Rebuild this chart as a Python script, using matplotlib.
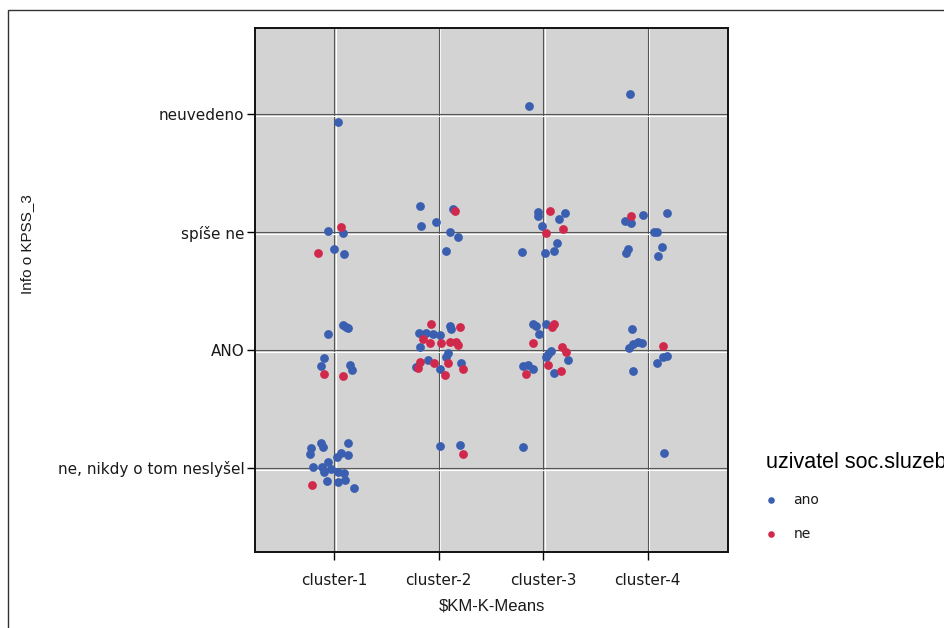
"""Jittered scatter of Info o KPSS_3 by K-Means cluster"""
import matplotlib
matplotlib.use('Agg')
import matplotlib.pyplot as plt
import matplotlib.patheffects as pe
from matplotlib.patches import Rectangle

clusters = ['cluster-1', 'cluster-2', 'cluster-3', 'cluster-4']
answers = ['ne, nikdy o tom neslyšel', 'ANO', 'spíše ne', 'neuvedeno']
groups = ['ano', 'ne']

# jittered positions (x = cluster 1..4, y = answer 0..3)
ano_x = [1.035, 0.940, 1.083, 1.000, 1.098,
         1.083, 1.137, 1.115, 0.945, 0.904, 0.873, 1.153, 1.169,
         0.876, 0.898, 0.780, 0.771, 1.137, 1.067, 1.137, 1.026, 0.945, 0.882,
         0.802, 0.907, 0.971, 1.041, 1.098, 0.930, 1.041, 1.105, 1.194,
         1.825, 2.141, 1.828, 1.978, 2.112, 2.185, 2.074,
         2.105, 2.121, 1.813, 1.876, 1.946, 2.010, 1.825, 2.090, 2.074, 1.787,
         1.899, 2.217, 2.010,
         2.016, 2.207,
         2.860, 2.946, 2.946, 3.207, 3.153, 2.985, 3.128, 3.099, 3.019, 2.793,
         2.899, 2.930, 3.026, 2.962, 3.074, 3.042, 3.233, 3.026, 2.803, 2.851,
         2.899, 3.099,
         2.803,
         3.831, 3.783, 3.837, 3.958, 4.187, 4.060, 4.092, 4.140, 4.101, 3.809, 3.793,
         3.847, 3.910, 3.942, 3.862, 3.824, 4.182, 4.146, 4.086, 3.857,
         4.156]
ano_y = [2.935, 2.011, 1.989, 1.856, 1.811,
         1.212, 1.184, 1.197, 1.133, 0.930, 0.864, 0.873, 0.831,
         0.214, 0.181, 0.167, 0.119, 0.209, 0.125, 0.110, 0.096, 0.053, 0.011,
         0.011, -0.031, -0.011, -0.031, -0.045, -0.108, -0.116, -0.102, -0.172,
         2.220, 2.195, 2.053, 2.082, 2.003, 1.960, 1.839,
         1.203, 1.175, 1.147, 1.142, 1.136, 1.127, 1.028, 0.977, 0.941, 0.858,
         0.915, 0.887, 0.836,
         0.186, 0.195,
         3.068, 2.172, 2.138, 2.164, 2.108, 2.051, 1.909, 1.839, 1.819, 1.831,
         1.220, 1.203, 1.220, 1.136, 0.994, 0.966, 0.915, 0.943, 0.864, 0.873,
         0.836, 0.803,
         0.181,
         3.172, 2.096, 2.074, 2.144, 2.164, 2.003, 2.003, 1.870, 1.797, 1.853, 1.819,
         1.178, 1.070, 1.057, 1.051, 1.014, 0.949, 0.941, 0.892, 0.825,
         0.125]
ne_x = [1.067, 0.847, 0.904, 1.089, 0.787,
        2.160, 1.924, 2.201, 1.851, 1.914, 2.026, 2.105, 2.163, 2.185, 1.818,
        1.803, 1.952, 2.090, 2.233, 2.057, 2.233,
        3.064, 3.026, 3.191, 3.099, 3.080, 2.904, 3.176, 3.217, 3.042, 2.835, 3.169,
        3.840, 4.149]
ne_y = [2.045, 1.819, 0.797, 0.780, -0.144,
        2.178, 1.220, 1.197, 1.091, 1.057, 1.057, 1.070, 1.070, 1.042, 0.901,
        0.845, 0.887, 0.892, 0.836, 0.788, 0.119,
        2.175, 1.994, 2.023, 1.220, 1.197, 1.057, 1.023, 0.986, 0.873, 0.797, 0.825,
        2.136, 1.034]

BLUE = '#3b5fb0'
RED = '#d1294b'
W, H = 945, 628

fig = plt.figure(figsize=(W / 100, H / 100), dpi=100)
# outer frame of the picture
fig.patches.append(Rectangle((8 / W, -0.05), 1.2, 1.05 - 10 / H, transform=fig.transFigure,
                             fill=False, edgecolor='#333333', linewidth=1))

ax = fig.add_axes([255 / W, 1 - 552 / H, (728 - 255) / W, (552 - 28) / H])
ax.set_facecolor('#d3d3d3')

ax.scatter(ano_x, ano_y, s=40, color=BLUE, linewidths=0, label=groups[0], zorder=3)
ax.scatter(ne_x, ne_y, s=40, color=RED, linewidths=0, label=groups[1], zorder=3)

ax.set_xlim(0.245, 4.767)
ax.set_ylim(-0.712, 3.729)
ax.set_xticks(range(1, len(clusters) + 1))
ax.set_xticklabels(clusters)
ax.set_yticks(range(len(answers)))
ax.set_yticklabels(answers)

# grid: dark line with a white line just beside it
ax.set_axisbelow(True)
ax.xaxis.grid(True, color='#555555', linewidth=0.8,
              path_effects=[pe.SimpleLineShadow(offset=(1.1, 0), shadow_color='white', alpha=1),
                            pe.Normal()])
ax.yaxis.grid(True, color='#555555', linewidth=0.8,
              path_effects=[pe.SimpleLineShadow(offset=(0, -1.1), shadow_color='white', alpha=1),
                            pe.Normal()])

for spine in ax.spines.values():
    spine.set_linewidth(1.4)
    spine.set_color('#111111')

ax.tick_params(axis='y', length=6, width=1, pad=1.5, labelsize=11, labelcolor='#1a1a1a')
ax.tick_params(axis='x', length=6, width=1, pad=9, labelsize=11, labelcolor='#1a1a1a')

ax.set_xlabel('$KM-K-Means', fontsize=12, family='Liberation Sans', color='#1a1a1a', labelpad=8)
fig.text(27 / W, 1 - 244 / H, 'Info o KPSS_3', rotation=90, ha='center', va='center',
         fontsize=11, family='Liberation Sans', color='#1a1a1a')

leg = ax.legend(loc='upper left', bbox_to_anchor=(760 / W, 1 - 446 / H),
                bbox_transform=fig.transFigure, frameon=False, title='uzivatel soc.sluzeb',
                title_fontproperties={'family': 'Liberation Sans', 'size': 15.5},
                alignment='left', fontsize=10, markerscale=0.75, handlelength=0.8,
                handletextpad=1.2, labelspacing=1.45, borderaxespad=0)
for t in leg.get_texts():
    t.set_color('#1a1a1a')

fig.savefig('out.png', dpi=100)
